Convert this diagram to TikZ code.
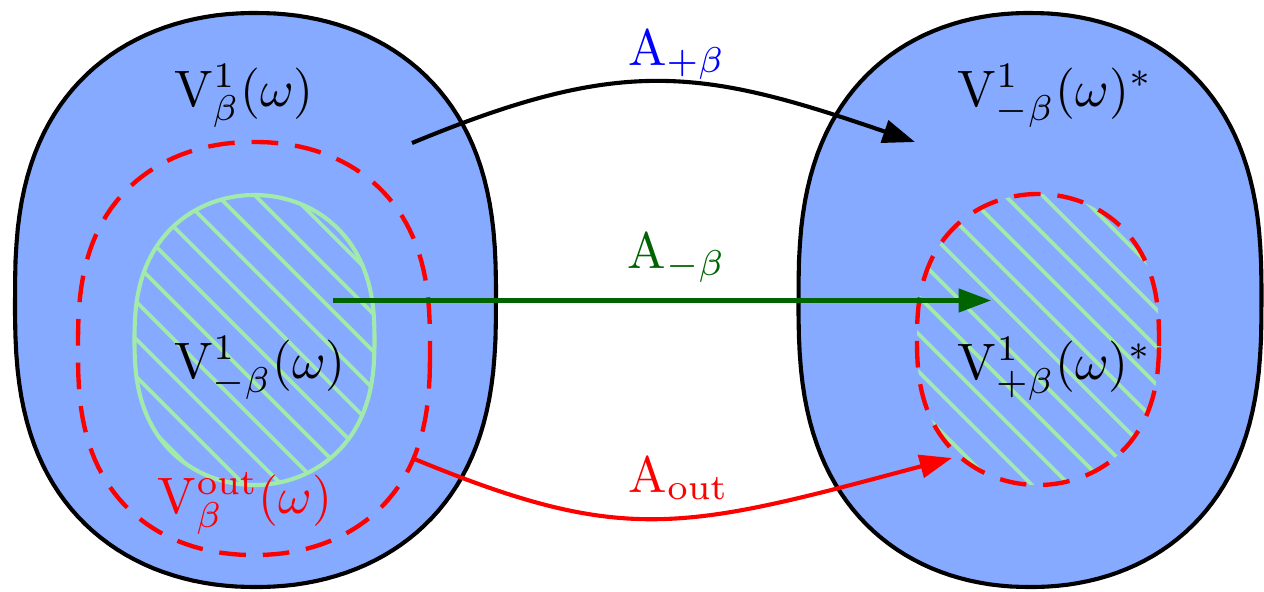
\documentclass[tikz,border=0pt]{standalone}
\usetikzlibrary{arrows.meta}
\definecolor{blobblue}{RGB}{134,170,255}
\definecolor{hatchgreen}{RGB}{162,233,172}
\definecolor{darkgreen}{RGB}{0,100,0}
\tikzset{
  blob/.style n args={6}{insert path={plot[domain=1.5:361.5,samples=145]
      ({#1+#3*sign(cos(\x))*abs(cos(\x))^#5},{#2+#4*sign(sin(\x))*abs(sin(\x))^#6}) -- cycle}},
  outer/.style={fill=blobblue, draw=black, line width=0.8pt},
  hatchline/.style={draw=hatchgreen, line width=0.75pt},
  greenborder/.style={draw=hatchgreen, line width=0.8pt},
  reddash/.style={draw=red, line width=0.85pt, dash pattern=on 5.2pt off 3.3pt},
  tip/.style={-{Triangle[length=6.3pt,width=4.5pt]}, line width=0.8pt},
  lbl/.style={anchor=base, inner sep=0pt}
}
\begin{document}
\begin{tikzpicture}[x=0.195pt, y=-0.195pt]
\useasboundingbox (0,0) rectangle (1264,591);
% left region
\path[outer, blob={255.5}{300}{240.5}{287}{0.95}{0.75}];
\begin{scope}
  \clip[blob={254.5}{340}{120}{145}{1}{0.8}];
  \foreach \k in {-12,...,28}
    \draw[hatchline] ({22+37.5*\k+150},150) -- ({22+37.5*\k+530},530);
\end{scope}
\path[greenborder, blob={254.5}{340}{120}{145}{1}{0.8}];
\path[reddash, blob={254}{348.5}{176}{206.5}{0.95}{0.75}];
% right region
\path[outer, blob={1030}{300}{231.5}{287}{0.95}{0.75}];
\begin{scope}
  \clip[blob={1038}{339.5}{121}{145.5}{1}{0.8}];
  \foreach \k in {-12,...,28}
    \draw[hatchline] ({22+37.5*\k+150},150) -- ({22+37.5*\k+530},530);
\end{scope}
\path[reddash, blob={1038}{339.5}{121}{145.5}{1}{0.8}];
% labels
\node[lbl] (vb) at (244,106) {$\mathrm{V}^1_{\beta}(\omega)$};
\node[lbl] (vmbs) at (1055,106) {$\mathrm{V}^1_{-\beta}(\omega)^*$};
\node[lbl] (vmb) at (260,378) {$\mathrm{V}^1_{-\beta}(\omega)$};
\node[lbl] (vpbs) at (1055,379) {$\mathrm{V}^1_{+\beta}(\omega)^*$};
\node[lbl, text=red] (vout) at (245,513) {$\mathrm{V}^{\mathrm{out}}_{\beta}(\omega)$};
\node[lbl, text=blue] (ap) at (677,65) {$\mathrm{A}_{+\beta}$};
\node[lbl, text=darkgreen] (am) at (677,268) {$\mathrm{A}_{-\beta}$};
\node[lbl, text=red] (ao) at (679,492) {$\mathrm{A}_{\mathrm{out}}$};
% arrow end points
\coordinate (ps) at (412,143);
\coordinate (pe) at (915,142);
\coordinate (ms) at (333,300.5);
\coordinate (me) at (991,300.5);
\coordinate (os) at (412,458);
\coordinate (oe) at (952,458);
% arrows
\draw[tip, black] (ps) .. controls (622,56) and (700,68) .. (pe);
\draw[tip, darkgreen] (ms) -- (me);
\draw[tip, red] (os) .. controls (624.5,546) and (681.5,530.5) .. (oe);
\end{tikzpicture}
\end{document}
